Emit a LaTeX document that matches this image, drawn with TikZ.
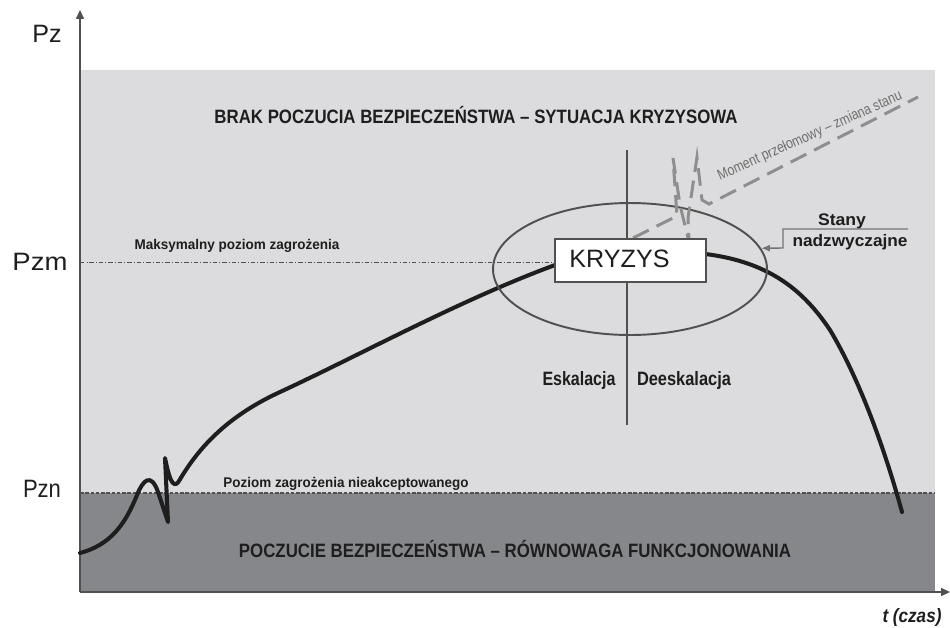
\documentclass[tikz,border=0pt]{standalone}
\usepackage{fontspec}
\setmainfont{Liberation Sans}
\usepackage{graphicx}
\usetikzlibrary{arrows.meta,shapes.geometric}
\newlength\pxu \setlength\pxu{0.02cm}
\newcommand\fitw[2]{\resizebox{#1\pxu}{\height}{#2}}
\definecolor{lightbg}{HTML}{DCDCDE}
\definecolor{darkbg}{HTML}{86878B}
\definecolor{ink}{HTML}{1E1E1E}
\definecolor{dashgray}{HTML}{8E8E8E}
\definecolor{linegray}{HTML}{505050}
\definecolor{txtgray}{HTML}{6E6E6E}
\tikzset{
  axisline/.style={draw=linegray, line width=0.8pt, -{Triangle[length=5pt,width=4.5pt]}},
  lab/.style={inner sep=0pt, text=ink, font=\fontsize{14.3}{16}\selectfont},
  txt/.style={inner sep=0pt, text=ink},
  maincurve/.style={draw=ink, line width=2.3pt, line join=round, line cap=round},
  ellline/.style={draw=linegray, line width=1.1pt},
  vline/.style={draw=linegray, line width=0.7pt},
  crisisdash/.style={draw=dashgray, line width=1.7pt, dash pattern=on 10pt off 5pt},
  callout/.style={draw=linegray!80, line width=0.8pt, -{Latex[length=5pt,width=4pt]}},
  maxline/.style={draw=linegray, line width=0.5pt, dash pattern=on 2.5pt off 1.2pt on 0.5pt off 1.2pt},
  minline/.style={draw=linegray, line width=0.6pt, dash pattern=on 2pt off 1pt},
  kbox/.style={draw=linegray, fill=white, line width=0.7pt, minimum width=3.02cm, minimum height=0.86cm, inner sep=0pt}
}
\begin{document}
\begin{tikzpicture}[x=0.02cm,y=-0.02cm]
\useasboundingbox (0,0) rectangle (950,627);
% background zones
\fill[lightbg] (80,70) rectangle (935,493);
\fill[darkbg] (80,493) rectangle (935,592);
% axes
\coordinate (O) at (80,592);
\coordinate (ytop) at (80,10);
\coordinate (xend) at (950,592);
\draw[axisline] (O) -- (ytop);
\draw[axisline] (O) -- (xend);
% axis labels
\node[lab] (pz) at (47,34) {Pz};
\node[lab] (pzm) at (40,262) {\fitw{55}{Pzm}};
\node[lab] (pzn) at (42,489) {\fitw{38}{Pzn}};
\node[txt, font=\bfseries\itshape\fontsize{11}{12}\selectfont] (tczas) at (912,617) {\fitw{59}{t (czas)}};
% level lines
\coordinate (maxL) at (80,262);
\coordinate (maxR) at (556,262);
\draw[maxline] (maxL) -- (maxR);
\coordinate (minL) at (80,493);
\coordinate (minR) at (935,493);
\draw[minline] (minL) -- (minR);
% zone titles
\node[txt] (title1) at (476,115) {\fitw{523}{\bfseries\fontsize{11}{12}\selectfont BRAK POCZUCIA BEZPIECZEŃSTWA – SYTUACJA KRYZYSOWA}};
\node[txt] (title2) at (515,549) {\fitw{552}{\bfseries\fontsize{11}{12}\selectfont POCZUCIE BEZPIECZEŃSTWA – RÓWNOWAGA FUNKCJONOWANIA}};
\node[txt] (maxlab) at (237,246) {\fitw{205}{\bfseries\fontsize{8}{9}\selectfont Maksymalny poziom zagrożenia}};
\node[txt] (minlab) at (346,484) {\fitw{245}{\bfseries\fontsize{8}{9}\selectfont Poziom zagrożenia nieakceptowanego}};
% main curve
\coordinate (cStart) at (80,553);
\coordinate (cEnd) at (902,512);
\draw[maincurve] (cStart) .. controls (110,545) and (125,525) .. (137,495)
  .. controls (143,480) and (151,472) .. (158,492) -- (168,522) -- (165,458)
  .. controls (168,472) and (172,492) .. (179,481)
  .. controls (200,445) and (230,415) .. (280,392)
  .. controls (360,355) and (460,300) .. (555,265) -- (600,252);
\draw[maincurve] (680,252) .. controls (760,255) and (800,285) .. (830,330)
  .. controls (860,380) and (885,450) .. (cEnd);
% ellipse and divider
\node[ellipse, ellline, minimum width=5.48cm, minimum height=2.64cm, inner sep=0pt] (ell) at (630,269) {};
\coordinate (vtop) at (627,150);
\coordinate (vbot) at (627,425);
\draw[vline] (vtop) -- (vbot);
% crisis spike (dashed)
\coordinate (dStart) at (633,238);
\coordinate (dEnd) at (918,97);
\draw[crisisdash] (dStart) -- (677,216) -- (673,158) -- (680,205) -- (689,242) -- (688,218) -- (697,157) -- (702,200) -- (709,204) -- (dEnd);
\node[txt, text=txtgray, rotate=24] (moment) at (810,136) {\fitw{200}{\fontsize{8.5}{9}\selectfont Moment przełomowy – zmiana stanu}};
% KRYZYS box
\node[kbox] (kbox) at (630.5,260.5) {};
\node[txt, font=\fontsize{14.3}{16}\selectfont] (ktext) at (619.5,259) {KRYZYS};
% escalation labels
\node[txt] (eskal) at (579,380) {\fitw{73}{\bfseries\fontsize{11}{12}\selectfont Eskalacja}};
\node[txt] (deeskal) at (684,380) {\fitw{94}{\bfseries\fontsize{11}{12}\selectfont Deeskalacja}};
% callout
\node[txt] (stany) at (842,221) {\fitw{48}{\bfseries\fontsize{9.5}{10}\selectfont Stany}};
\node[txt] (nadzw) at (850,242) {\fitw{115}{\bfseries\fontsize{9.5}{10}\selectfont nadzwyczajne}};
\coordinate (callStart) at (908,229);
\coordinate (callC1) at (783,229);
\coordinate (callC2) at (783,248);
\draw[callout] (callStart) -- (callC1) -- (callC2) -- (ell.9);
\end{tikzpicture}
\end{document}
